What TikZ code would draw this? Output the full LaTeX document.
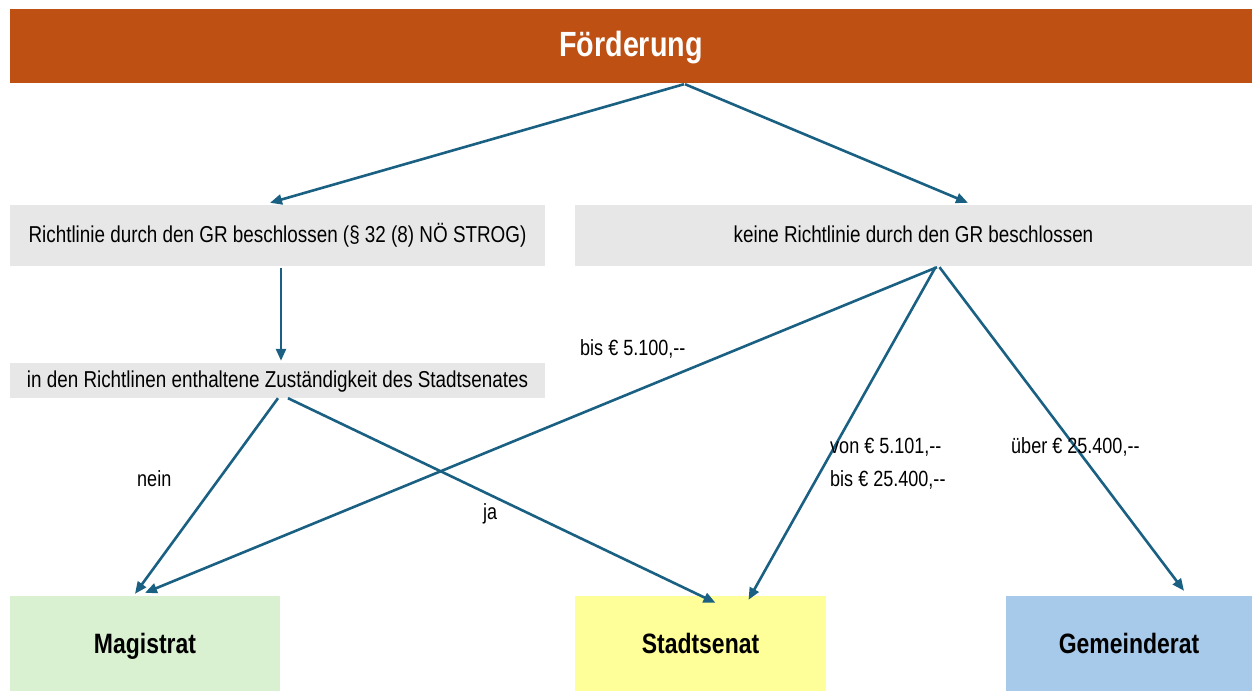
\documentclass[tikz,border=0pt]{standalone}
\usepackage{fontspec}
\setmainfont{Liberation Sans}[FakeStretch=0.82]
\usetikzlibrary{arrows.meta}
\definecolor{titlebg}{RGB}{190,80,20}
\definecolor{graybox}{RGB}{231,231,231}
\definecolor{magbg}{RGB}{218,241,209}
\definecolor{senbg}{RGB}{255,255,153}
\definecolor{gembg}{RGB}{167,201,234}
\definecolor{arrowc}{RGB}{26,96,130}
\newcommand{\dd}{{-}{-}}
\tikzset{
  box/.style={rectangle, inner sep=0pt, anchor=center, text=black},
  graytext/.style={box, fill=graybox, text height=16.5pt, text depth=3.5pt, font=\fontsize{23}{26}\selectfont},
  endbox/.style={box, minimum height=95pt, text height=22pt, text depth=3pt, font=\fontsize{28}{32}\selectfont\bfseries},
  conn/.style={draw=arrowc, line width=2.6pt, -{Triangle[length=12pt,width=10pt]}},
  lbl/.style={anchor=base west, inner sep=0pt, font=\fontsize{22}{25}\selectfont}
}
\begin{document}
\begin{tikzpicture}[x=1pt,y=-1pt]
\useasboundingbox (0,0) rectangle (1252,691);
\node[box, fill=titlebg, text=white, minimum width=1242pt, minimum height=74pt,
  text height=25pt, text depth=5pt,
  font=\fontsize{35}{40}\selectfont\bfseries] (title) at (631,46) {Förderung};
\node[graytext, minimum width=535pt, minimum height=61pt] (A) at (277.5,235.5)
  {Richtlinie durch den GR beschlossen (§ 32 (8) NÖ STROG)};
\node[graytext, minimum width=535pt, minimum height=35pt] (B) at (277.5,380.5)
  {in den Richtlinen enthaltene Zuständigkeit des Stadtsenates};
\node[graytext, minimum width=677pt, minimum height=61pt] (C) at (913.5,235.5)
  {keine Richtlinie durch den GR beschlossen};
\node[endbox, fill=magbg, minimum width=270pt] (mag) at (145,643.5) {Magistrat};
\node[endbox, fill=senbg, minimum width=251pt] (sen) at (700.5,643.5) {Stadtsenat};
\node[endbox, fill=gembg, minimum width=246pt] (gem) at (1129,643.5) {Gemeinderat};

\draw[conn] ([xshift=53pt,yshift=-1pt]title.south) -- ([xshift=-7.5pt,yshift=2pt]A.north);
\draw[conn] ([xshift=54pt,yshift=-1pt]title.south) -- ([xshift=54.5pt,yshift=2pt]C.north);
\draw[conn] ([xshift=3.5pt,yshift=-2pt]A.south) -- ([xshift=3.5pt,yshift=2pt]B.north);
\draw[conn] ([xshift=0.5pt]B.south) -- ([xshift=-10pt,yshift=2pt]mag.north);
\draw[conn] ([xshift=10.5pt]B.south) -- ([xshift=15pt,yshift=-7pt]sen.north);
\draw[conn] ([xshift=23.5pt,yshift=-1pt]C.south) -- ([xshift=0pt,yshift=3pt]mag.north);
\draw[conn] ([xshift=22pt,yshift=-1pt]C.south) -- ([xshift=48pt,yshift=-4pt]sen.north);
\draw[conn] ([xshift=26pt,yshift=-1pt]C.south) -- ([xshift=55pt,yshift=5pt]gem.north);

\node[lbl] (l1) at (580,355) {bis € 5.100,\dd};
\node[lbl] (l2) at (137,486) {nein};
\node[lbl] (l3) at (483,519) {ja};
\node[lbl] (l4) at (830,453) {von € 5.101,\dd};
\node[lbl] (l5) at (830,486) {bis € 25.400,\dd};
\node[lbl] (l6) at (1011,453) {über € 25.400,\dd};
\end{tikzpicture}
\end{document}
